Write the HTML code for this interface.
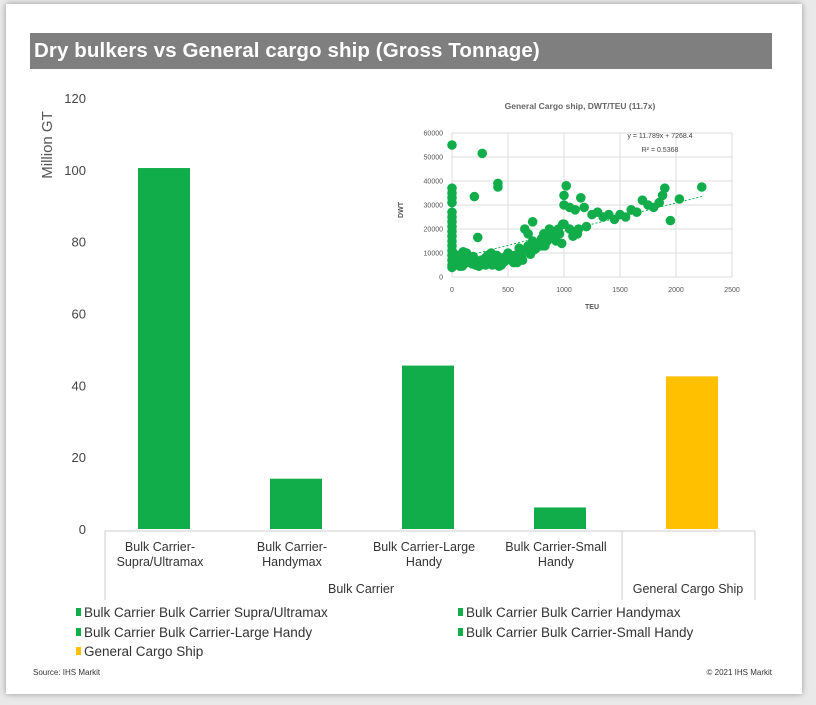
<!DOCTYPE html>
<html><head><meta charset="utf-8">
<style>
body{margin:0;width:816px;height:705px;background:#e9e9e9;font-family:"Liberation Sans",sans-serif;overflow:hidden}
#card{position:absolute;left:6px;top:4px;width:796px;height:690px;background:#fff;box-shadow:0 0 6px rgba(0,0,0,.35)}
#title{position:absolute;left:30px;top:33px;width:742px;height:36px;background:#7f7f7f;color:#fff;font-weight:bold;font-size:20.5px;letter-spacing:0.1px;line-height:36px;padding-left:4px;box-sizing:border-box}
svg{position:absolute;left:0;top:0}
</style></head><body>
<div id="card"></div>
<div id="title">Dry bulkers vs General cargo ship (Gross Tonnage)</div>
<svg id="s" width="816" height="705"></svg>
<script>
const categories=["Bulk Carrier-|Supra/Ultramax","Bulk Carrier-|Handymax","Bulk Carrier-Large|Handy","Bulk Carrier-Small|Handy",""];
const values=[100.5,14,45.5,6,42.5];
const barColors=["#12ad4b","#12ad4b","#12ad4b","#12ad4b","#ffc000"];
const yTicks=[0,20,40,60,80,100,120];
const legendLabels=["Bulk Carrier Bulk Carrier Supra/Ultramax","Bulk Carrier Bulk Carrier Handymax","Bulk Carrier Bulk Carrier-Large Handy","Bulk Carrier Bulk Carrier-Small Handy","General Cargo Ship"];
const teu=[0,0,0,0,0,0,0,0,0,0,0,0,0,0,0,0,0,0,200,270,410,410,230,20,40,60,80,100,120,150,180,200,240,280,300,330,360,400,430,460,500,540,560,600,620,650,680,700,720,750,780,800,830,860,900,930,960,990,1000,1020,1000,1050,1100,1150,1180,1120,1200,1250,1300,1350,1400,1450,1500,1550,1600,1650,1700,1750,1800,1850,1900,1880,1950,2030,2230,1000,1050,950,900,850,800,700,650,600,680,720,760,820,870,920,980,1080,1130,60,130,250,350,450,520,580,300,150,90,30,70,110,160,210,260,310,370,420,470,530,570,630,20,50,100,190,320,380,440,490,550,660,740];
const dwt=[55000,37000,35000,33000,31000,27000,25000,23000,21000,19000,17000,15000,13000,11000,9000,7000,5000,4000,33500,51500,37500,39000,16500,8000,6000,7000,9000,5000,6500,8000,5500,7000,4500,6000,8000,7000,5000,9000,6500,8000,10000,7500,9000,12000,8000,11000,13000,9500,15000,12000,14000,16000,13000,17000,19000,15000,18000,22000,30000,38000,34000,29000,28000,33000,29000,18000,21000,26000,27000,25000,26000,24000,26000,25000,28000,27000,32000,30000,29000,31000,37000,34000,23500,32500,37500,22000,20000,20000,17000,15000,13000,10000,20000,10000,18000,23000,14000,18000,20000,16000,14000,17000,20000,9000,10000,6000,10000,7000,9000,6000,5000,7000,4500,5500,4500,7500,6000,5000,7000,5500,6000,4500,6500,7000,8500,7000,9500,8000,10500,8500,9000,6000,5000,8000,6000,11000,11500];
const sx=[0,500,1000,1500,2000,2500], sy=[0,10000,20000,30000,40000,50000,60000];
const NS="http://www.w3.org/2000/svg", svg=document.getElementById('s');
function el(t,a,txt){const e=document.createElementNS(NS,t);for(const k in a)e.setAttribute(k,a[k]);if(txt!==undefined)e.textContent=txt;svg.appendChild(e);return e;}
const Y=v=>529-v*(431/120), X=i=>164+i*132;
yTicks.forEach(t=>{const e=el('text',{x:86,y:Y(t)+5,'text-anchor':'end','font-size':13,fill:'#444'},t);

});
let yt=el('text',{x:0,y:0,transform:'translate(52,145) rotate(-90)','text-anchor':'middle','font-size':15,fill:'#555'},'Million GT');

values.forEach((v,i)=>{const r=el('rect',{x:X(i)-26,y:Y(v),width:52,height:Y(0)-Y(v),fill:barColors[i]});

});
el('line',{x1:105,y1:531,x2:755,y2:531,stroke:'#ccc'});
[105,622,755].forEach(x=>el('line',{x1:x,y1:531,x2:x,y2:600,stroke:'#ccc'}));
categories.forEach((c,i)=>{c.split('|').forEach((p,j)=>{if(!p)return;const e=el('text',{x:X(i)-4,y:551+j*15,'text-anchor':'middle','font-size':12.5,fill:'#333'},p);

});});
el('text',{x:361,y:593,'text-anchor':'middle','font-size':12.5,fill:'#333'},'Bulk Carrier');
el('text',{x:688,y:593,'text-anchor':'middle','font-size':12.5,fill:'#333'},'General Cargo Ship');
const lp=[[80,617],[462,617],[80,637],[462,637],[80,656]];
legendLabels.forEach((l,i)=>{el('rect',{x:lp[i][0]-4,y:lp[i][1]-9,width:5,height:8,fill:barColors[i]});
const e=el('text',{x:lp[i][0]+4,y:lp[i][1],'font-size':13.5,fill:'#333'},l);

});
el('text',{x:33,y:675,'font-size':8,fill:'#333'},'Source: IHS Markit');
el('text',{x:772,y:675,'font-size':8,fill:'#333','text-anchor':'end'},'© 2021 IHS Markit');
const IX=v=>452+v*(280/2500), IY=v=>277-v*(144/60000);
el('text',{x:580,y:109,'text-anchor':'middle','font-size':8.5,'font-weight':'bold',fill:'#666'},'General Cargo ship, DWT/TEU (11.7x)');
sx.forEach(t=>{el('line',{x1:IX(t),y1:IY(0),x2:IX(t),y2:IY(60000),stroke:'#ddd'});el('text',{x:IX(t),y:292,'text-anchor':'middle','font-size':7,fill:'#555'},t);});
sy.forEach(t=>{el('line',{x1:IX(0),y1:IY(t),x2:IX(2500),y2:IY(t),stroke:'#ddd'});el('text',{x:443,y:IY(t)+2.5,'text-anchor':'end','font-size':7,fill:'#555'},t);});
el('text',{x:IX(1250),y:309,'text-anchor':'middle','font-size':7,'font-weight':'bold',fill:'#555'},'TEU');
el('text',{x:0,y:0,transform:'translate(403,210) rotate(-90)','text-anchor':'middle','font-size':7,'font-weight':'bold',fill:'#555'},'DWT');
teu.forEach((t,i)=>{const c=el('circle',{cx:IX(t),cy:IY(dwt[i]),r:4.8,fill:'#12ad4b'});

});
el('line',{x1:IX(0),y1:IY(7268),x2:IX(2250),y2:IY(7268+11.789*2250),stroke:'#12ad4b','stroke-dasharray':'2 2'});
el('text',{x:660,y:138,'text-anchor':'middle','font-size':7,fill:'#444'},'y = 11.789x + 7268.4');
el('text',{x:660,y:152,'text-anchor':'middle','font-size':7,fill:'#444'},'R² = 0.5368');
</script>
</body></html>
